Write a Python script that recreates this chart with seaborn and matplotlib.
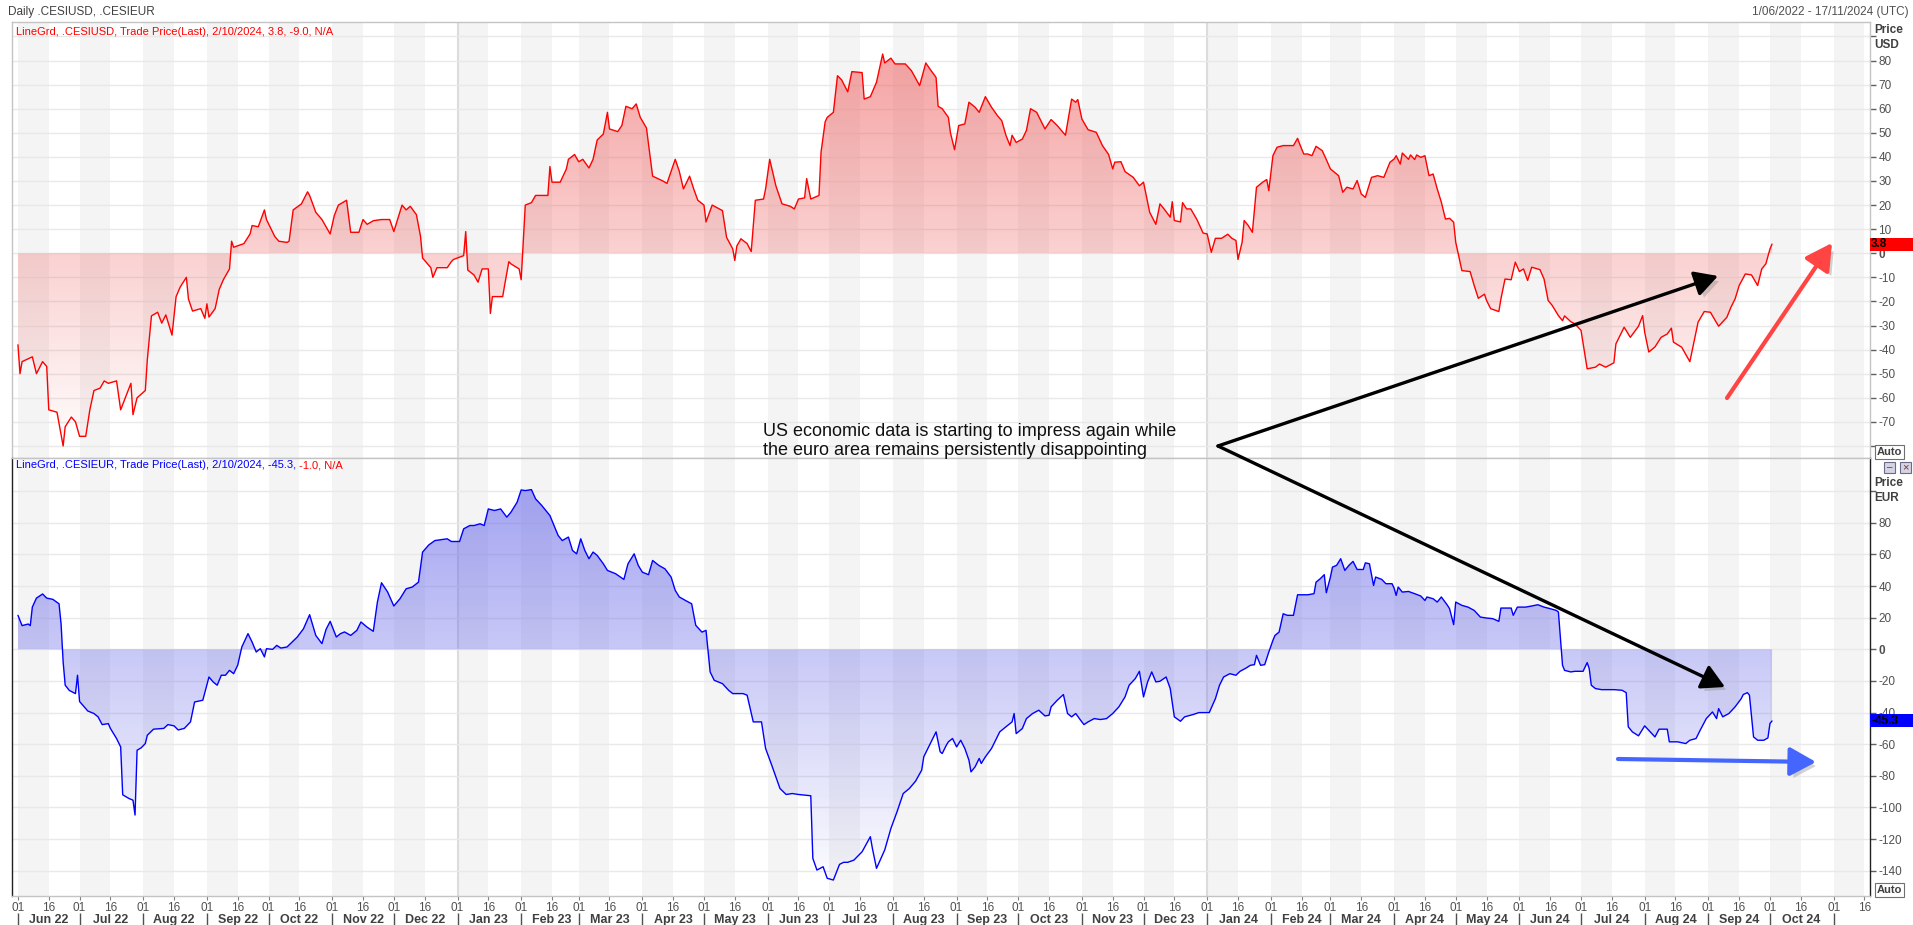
import numpy as np
import pandas as pd
import matplotlib
matplotlib.use("Agg")
import matplotlib.pyplot as plt
import matplotlib.dates as mdates
import matplotlib.patheffects as pe
from matplotlib.patches import Rectangle, FancyArrowPatch
from matplotlib import transforms
from matplotlib import font_manager as fm
import seaborn as sns

# ---------------- data ----------------
START = "2022-06-01"   # day offsets below are counted from this date

usd_day = [0, 1, 2, 7, 9, 12, 14, 15, 19, 22,
           23, 26, 28, 30, 33, 35, 37, 40, 42, 44,
           48, 50, 55, 56, 58, 62, 63, 65, 68, 70,
           72, 75, 77, 79, 82, 83, 85, 89, 91, 92,
           93, 96, 98, 100, 103, 104, 105, 110, 113, 114,
           117, 120, 121, 125, 127, 131, 132, 134, 138, 141,
           142, 145, 148, 152, 154, 156, 160, 162, 166, 168,
           170, 173, 177, 181, 183, 187, 189, 191, 194, 196,
           197, 201, 202, 204, 209, 211, 212, 217, 218, 219,
           222, 224, 226, 229, 230, 231, 236, 237, 239, 240,
           244, 245, 247, 250, 252, 254, 258, 259, 260, 264,
           267, 268, 271, 273, 275, 278, 280, 282, 285, 287,
           288, 292, 294, 296, 299, 301, 303, 306, 309, 314,
           316, 320, 322, 324, 327, 329, 331, 334, 335, 338,
           343, 345, 348, 349, 350, 352, 355, 357, 359, 363,
           364, 366, 369, 372, 376, 378, 380, 383, 384, 386,
           390, 391, 393, 394, 397, 399, 401, 404, 406, 411,
           412, 415, 418, 421, 422, 425, 427, 432, 435, 439,
           442, 444, 447, 448, 450, 453, 454, 456, 458, 461,
           463, 466, 468, 471, 474, 477, 479, 481, 483, 484,
           486, 489, 491, 493, 496, 498, 500, 503, 506, 510,
           513, 515, 516, 518, 521, 525, 528, 531, 533, 534,
           537, 539, 543, 546, 548, 551, 554, 556, 558, 561,
           562, 563, 566, 567, 569, 571, 574, 577, 579, 581,
           583, 586, 589, 591, 593, 594, 596, 597, 599, 601,
           603, 606, 608, 609, 611, 613, 616, 621, 623, 624,
           626, 628, 630, 632, 635, 637, 639, 641, 643, 645,
           647, 650, 652, 654, 656, 659, 662, 665, 668, 670,
           671, 673, 674, 677, 678, 680, 681, 683, 685, 687,
           689, 691, 693, 695, 697, 699, 700, 703, 707, 709,
           711, 714, 715, 717, 721, 722, 724, 727, 729, 731,
           733, 735, 737, 741, 743, 745, 747, 750, 752, 753,
           756, 758, 761, 764, 768, 770, 773, 777, 778, 782,
           785, 789, 791, 792, 794, 797, 800, 803, 805, 806,
           810, 814, 816, 818, 821, 824, 828, 832, 834, 836,
           838, 841, 844, 847, 849, 851, 853, 854]
usd_val = [-38, -50, -45, -43, -50, -45, -47, -65, -66, -80,
           -72, -68, -70, -76, -76, -65, -57, -56, -53, -54,
           -53, -65, -54, -67, -60, -57, -44, -26, -24.5, -29,
           -25.6, -34, -18, -14, -10, -19, -24, -23, -27, -21,
           -26.5, -23, -15, -11, -6.5, 5, 2.5, 4, 8, 11.5,
           11, 18, 14, 7, 5, 4.5, 5, 18, 20.5, 25.5,
           24, 17, 14, 8, 15.6, 20, 22, 8.7, 8.7, 14,
           12, 13.5, 14, 14, 9, 20, 18, 19.5, 16, 7,
           -2, -6, -10, -6, -6, -3.5, -2.6, -1, 9, -7,
           -9, -12, -6.5, -6.5, -25, -18, -18, -13, -3.5, -4.4,
           -6.5, -11, 20, 21, 24, 24, 24, 36, 29.5, 29.5,
           35, 39, 41, 38, 39, 35.4, 39, 47, 49.5, 58.5,
           51.6, 50.5, 53, 61, 60, 62, 56.4, 52, 32, 30,
           29, 39, 34, 26.7, 32, 26.7, 22, 20, 13, 20,
           17.7, 6.6, 1.8, -3, 3, 6, 4, 0.7, 22, 22.5,
           26.7, 39, 28, 20.5, 19.5, 18.4, 22.5, 23, 31, 22.5,
           24, 42, 54.6, 56.4, 58.5, 73.7, 72, 67, 75.4, 75,
           64, 65, 71, 82.7, 79, 81, 78.6, 78.6, 75.8, 69.6,
           79, 76.5, 73, 61, 60, 56.4, 50, 43, 53, 53.7,
           62.7, 60.6, 58.5, 65, 60.6, 57, 55, 49, 44.7, 49,
           46, 47.4, 51, 60, 58.5, 55, 51.6, 55.5, 53, 49,
           64, 62.7, 63.8, 55.7, 51.3, 50.2, 44.7, 41, 35, 37.8,
           38, 33.9, 31.5, 28, 29.5, 17, 12, 20.5, 18.4, 15,
           21.4, 13.6, 13, 21, 18.4, 18.4, 14, 8.4, 8, 0.4,
           6.2, 6.2, 7.9, 6.2, 5.3, -2.6, 4.6, 13.6, 11.5, 8.7,
           27.4, 29.5, 30.6, 26, 40.5, 44, 44.7, 44.7, 47.7, 45.4,
           41.2, 41.2, 40.5, 44.4, 42.6, 38.9, 35, 33.6, 32.2, 25.3,
           27.4, 26.7, 30.2, 24.6, 23.2, 31.5, 32.2, 31.5, 37.8, 39.1,
           40.5, 37, 41.6, 39, 40.8, 38.9, 40.8, 39.8, 40.5, 32.2,
           32.9, 26.7, 21.2, 14.2, 14.5, 12.9, 4.6, -7.2, -7.6, -13.4,
           -18.7, -17, -19.6, -23, -24.2, -19, -10.7, -11, -3.7, -7.6,
           -6.5, -11.3, -5.8, -6.8, -10.7, -19.6, -21.7, -25.9, -28, -26,
           -28.4, -29.3, -32, -48, -47.3, -46, -47.3, -45.5, -37.6, -30.7,
           -34.9, -30.3, -25.9, -32.8, -41, -38.9, -34.9, -33.5, -31.1, -36.9,
           -39, -45, -36.9, -28.6, -24.2, -24.5, -30.3, -26.6, -22.4, -19,
           -13.4, -8.6, -9, -13.4, -6.5, -4.4, 1.8, 3.8]

eur_day = [0, 2, 5, 6, 7, 9, 12, 14, 17, 20,
           21, 22, 23, 25, 28, 29, 30, 34, 37, 39,
           41, 44, 45, 48, 50, 51, 54, 56, 57, 58,
           60, 62, 63, 66, 71, 73, 76, 78, 81, 84,
           86, 90, 93, 95, 97, 99, 101, 103, 105, 107,
           109, 112, 114, 116, 118, 120, 121, 124, 126, 128,
           131, 133, 136, 139, 142, 144, 145, 148, 150, 152,
           155, 157, 159, 162, 165, 167, 170, 173, 175, 177,
           180, 183, 186, 189, 192, 195, 197, 200, 203, 209,
           211, 215, 217, 220, 222, 225, 227, 229, 232, 235,
           238, 240, 243, 245, 247, 250, 252, 255, 259, 261,
           263, 265, 268, 270, 272, 274, 276, 278, 280, 282,
           285, 287, 291, 295, 297, 300, 302, 304, 307, 309,
           312, 315, 318, 320, 322, 325, 328, 330, 333, 335,
           337, 339, 343, 346, 348, 353, 355, 358, 362, 364,
           367, 371, 374, 377, 380, 383, 386, 387, 389, 392,
           394, 397, 400, 402, 404, 407, 411, 415, 416, 418,
           422, 425, 428, 431, 434, 437, 440, 441, 443, 445,
           447, 449, 450, 452, 453, 455, 457, 459, 461, 463,
           464, 466, 468, 469, 471, 474, 476, 478, 481, 484,
           485, 486, 489, 491, 494, 497, 500, 502, 503, 506,
           509, 511, 513, 515, 517, 519, 521, 524, 527, 530,
           533, 536, 539, 541, 544, 546, 548, 550, 552, 554,
           556, 559, 561, 563, 566, 568, 572, 575, 580, 583,
           585, 587, 590, 593, 595, 598, 600, 602, 603, 605,
           607, 609, 611, 612, 614, 616, 618, 621, 623, 628,
           631, 632, 634, 636, 637, 639, 640, 642, 644, 646,
           648, 650, 652, 655, 656, 658, 660, 661, 664, 666,
           669, 670, 671, 672, 674, 677, 680, 683, 685, 686,
           689, 691, 693, 696, 697, 699, 700, 703, 706, 709,
           712, 715, 718, 721, 722, 727, 728, 730, 734, 737,
           740, 743, 746, 749, 750, 752, 753, 756, 758, 762,
           764, 765, 766, 768, 771, 777, 781, 783, 784, 786,
           789, 792, 794, 797, 799, 803, 804, 808, 812, 814,
           817, 819, 822, 825, 827, 828, 830, 833, 836, 839,
           840, 842, 843, 845, 847, 850, 852, 853, 854]
eur_val = [21.5, 15, 16, 15, 26.7, 32.4, 35, 32.4, 31.6, 28.8,
           16, -8, -22.7, -26, -28, -16.4, -33, -39, -40.6, -42.7,
           -47.6, -47, -50, -56.4, -61.7, -92, -94.3, -95.4, -104.8, -63.8,
           -62.3, -59.6, -54.3, -50.5, -50, -47.6, -48.4, -51, -50, -45.9,
           -33.3, -32.2, -17.5, -20.6, -22.7, -16.4, -16.4, -13.3, -15.4, -10,
           1.5, 9.9, 4.6, -1.7, 0.4, -4.8, 0.4, 0, 2.5, 0.8,
           1.5, 4, 7.8, 13, 21.9, 13, 8.8, 3.6, 12.6, 17.7,
           7.8, 9.9, 11, 8.8, 12, 17.3, 14, 11.4, 29.9, 42.1,
           36.2, 27.4, 32, 38.3, 39.4, 42.5, 61.5, 66, 68.8, 69.9,
           68.2, 68.2, 76.2, 78.3, 78.3, 79.4, 78.3, 88.8, 87.8, 88.8,
           83.6, 86.7, 93, 100.8, 100.4, 101, 95.2, 91, 84.6, 78.3,
           72, 68.8, 71, 62.5, 60.4, 69.9, 62.5, 57.3, 61.5, 59.4,
           54.1, 49.9, 47.8, 44.2, 54.1, 60.4, 53.1, 48.8, 47.2, 56.2,
           53.1, 50.9, 45.7, 37.3, 33.1, 30.9, 28.8, 15.2, 10.9, 12,
           -14.3, -19.6, -21.7, -25.9, -28, -28, -29, -45.9, -45.9, -62.7,
           -73.3, -88, -91.8, -91.2, -91.8, -92.2, -92.6, -132.2, -139.6, -137.5,
           -144.8, -145.9, -136, -134.7, -134.7, -133.3, -128, -118.5, -125.9, -138.5,
           -126.9, -113.3, -102.7, -91.2, -88, -83.4, -76.4, -68, -62.7, -57.5,
           -52.2, -64.8, -65.9, -60.6, -58.5, -56.4, -61.7, -57.5, -62.7, -70.1,
           -77.5, -74.3, -69, -72.2, -68, -62.7, -57.5, -52.2, -49, -45.9,
           -40.6, -53.3, -50.1, -43.8, -40.6, -38.5, -42.1, -41.7, -36.4, -32.2,
           -28.6, -40.6, -42.7, -40.6, -44.2, -47.6, -45.9, -43.8, -44.4, -43.8,
           -40.6, -36.4, -30.1, -22.7, -18.5, -13.9, -30.1, -20.6, -14.3, -20.6,
           -20.2, -17.5, -24.8, -42.7, -45.5, -42.7, -41.3, -40, -40, -31.2,
           -22.7, -17.5, -15.4, -16.4, -13.9, -11.8, -10.1, -9.7, -3.8, -10.1,
           -9.7, -1.7, 5.7, 8.8, 10.9, 22.5, 21.5, 21.5, 34.5, 34.5,
           35.2, 42.5, 44.6, 47.2, 35.8, 45.7, 52, 53.1, 57.3, 49.9,
           53.1, 55.6, 50.5, 50.5, 54.7, 54.1, 40.4, 45.7, 44.2, 41.5,
           41.5, 38.7, 34.1, 39.4, 36.2, 36.6, 35.2, 33.7, 30.9, 33.1,
           32, 29.9, 33.1, 27.8, 25.7, 15.6, 29.9, 27.8, 26.7, 24.6,
           20.4, 19.8, 19.4, 17.7, 26.1, 26.1, 21.5, 26.7, 26.7, 27.4,
           28.2, 26.7, 25.7, 24.6, 23.6, -10.1, -13.3, -14.3, -13.9, -13.9,
           -8.4, -12.2, -22.7, -24.8, -25.5, -25.5, -25.9, -27.4, -49, -52.2,
           -54.7, -48.4, -51.2, -55.4, -50.5, -50.5, -58.5, -58.5, -59.6, -57.5,
           -56.4, -51.2, -43.8, -39.6, -43.8, -37.5, -42.7, -40.6, -36.4, -31.2,
           -28.6, -27.4, -29, -55.4, -57.5, -57.5, -56, -46.9, -45.3]

usd_ticks = list(range(-70, 81, 10))
eur_ticks = list(range(-140, 81, 20))
usd_last, eur_last = 3.8, -45.3
header_left = "Daily .CESIUSD, .CESIEUR"
header_right = "1/06/2022 - 17/11/2024 (UTC)"
usd_legend = "LineGrd, .CESIUSD, Trade Price(Last), 2/10/2024, 3.8, -9.0, N/A"
eur_legend_a = "LineGrd, .CESIEUR, Trade Price(Last), 2/10/2024, -45.3, "
eur_legend_b = "-1.0, N/A"
note = ("US economic data is starting to impress again while\n"
        "the euro area remains persistently disappointing")

assert len(usd_day) == len(usd_val) and len(eur_day) == len(eur_val)

# ---------------- style ----------------
sns.set_theme(style="white")
names = {f.name for f in fm.fontManager.ttflist}
NARROW = "Liberation Sans Narrow" if "Liberation Sans Narrow" in names else "Liberation Sans"
plt.rcParams["font.family"] = [NARROW, "DejaVu Sans"]
SMALL = 8

W, H = 1913, 925
fig = plt.figure(figsize=(W / 100, H / 100), dpi=100, facecolor="white")

def fx(px):
    return px / W

def fy(py):
    return 1 - py / H

ax1 = fig.add_axes([fx(12), fy(458), fx(1870 - 12), (458 - 22) / H])
ax2 = fig.add_axes([fx(12), fy(896), fx(1870 - 12), (896 - 458) / H], sharex=ax1)

start = pd.Timestamp(START)
usd_dates = start + pd.to_timedelta(usd_day, unit="D")
eur_dates = start + pd.to_timedelta(eur_day, unit="D")
df_usd = pd.DataFrame({"date": usd_dates, "value": usd_val})
df_eur = pd.DataFrame({"date": eur_dates, "value": eur_val})

x0 = mdates.date2num(start) - 2.9
x1 = mdates.date2num(start) + 901.7
months = pd.date_range("2022-06-01", "2024-11-01", freq="MS")


def decorate(ax):
    ax.set_facecolor("white")
    for m in months:
        ax.axvspan(mdates.date2num(m), mdates.date2num(m + pd.Timedelta(days=15)),
                   color="#f4f4f4", lw=0, zorder=0.1)
    for y in ["2023-01-01", "2024-01-01"]:
        ax.axvline(mdates.date2num(pd.Timestamp(y)), color="#dcdcdc", lw=1.5, zorder=0.3)
    ax.grid(axis="y", color="#e9e9e9", lw=1)
    ax.grid(axis="x", visible=False)
    ax.set_axisbelow(True)


def gradient_fill(ax, df, rgb, amax, ylim):
    xn = mdates.date2num(df["date"])
    poly = ax.fill_between(xn, df["value"].values, 0, facecolor="none", edgecolor="none")
    n = 256
    grad = np.zeros((n, 1, 4))
    grad[..., 0], grad[..., 1], grad[..., 2] = rgb
    grad[:, 0, 3] = np.linspace(0, amax, n)
    im = ax.imshow(grad, extent=[xn.min(), xn.max(), ylim[0], ylim[1]], origin="lower",
                   aspect="auto", zorder=1, interpolation="bilinear")
    im.set_clip_path(poly.get_paths()[0], transform=ax.transData)


def style_yaxis(ax, ticks, grid_ticks, ylim):
    ax.set_ylim(*ylim)
    ax.yaxis.tick_right()
    ax.set_yticks(grid_ticks)
    ax.set_yticklabels([str(t) if t in ticks else "" for t in grid_ticks])
    ax.tick_params(axis="y", which="both", right=True, left=False, direction="out",
                   length=4, width=1, color="#606060", labelsize=SMALL + 0.5,
                   labelcolor="#505050", pad=2)
    for lab, t in zip(ax.get_yticklabels(), grid_ticks):
        if t == 0:
            lab.set_fontweight("bold")
    ax.set_ylabel("")
    ax.set_xlabel("")


USD_LIM = (-85, 96)
EUR_LIM = (-156, 121)

# top panel
decorate(ax1)
sns.lineplot(data=df_usd, x="date", y="value", ax=ax1, color="#ff0000", lw=1, zorder=3)
gradient_fill(ax1, df_usd, (0.94, 0.38, 0.38), 0.62, USD_LIM)
style_yaxis(ax1, usd_ticks, list(range(-80, 91, 10)), USD_LIM)
ax1.tick_params(axis="x", bottom=False, labelbottom=False)
for s in ax1.spines.values():
    s.set_color("#c4c4c4")
    s.set_linewidth(1)

# bottom panel
decorate(ax2)
sns.lineplot(data=df_eur, x="date", y="value", ax=ax2, color="#0000ff", lw=1, zorder=3)
gradient_fill(ax2, df_eur, (0.42, 0.42, 0.92), 0.66, EUR_LIM)
style_yaxis(ax2, eur_ticks, list(range(-140, 101, 20)), EUR_LIM)
for k, s in ax2.spines.items():
    s.set_linewidth(1)
    s.set_color("#202020" if k in ("left", "right") else "#c4c4c4")

ax1.set_xlim(x0, x1)

# x ticks: 01 / 16
tick_dates = []
tick_labels = []
for m in months:
    tick_dates += [m, m + pd.Timedelta(days=15)]
    tick_labels += ["01", "16"]
ax2.set_xticks(mdates.date2num(tick_dates))
ax2.set_xticklabels(tick_labels)
ax2.tick_params(axis="x", bottom=True, direction="out", length=3, width=0.8,
                color="#808080", labelsize=SMALL + 0.5, labelcolor="#505050", pad=1.5)

sec = ax2.secondary_xaxis("bottom")
sec.set_xticks(mdates.date2num(months))
sec.set_xticklabels([""] * len(months))
mids = [m + pd.Timedelta(days=15) for m in months[:-1]]
sec.set_xticks(mdates.date2num(mids), minor=True)
sec.set_xticklabels([m.strftime("%b %y") for m in months[:-1]], minor=True)
sec.spines["bottom"].set_position(("outward", 12))
sec.spines["bottom"].set_visible(False)
sec.tick_params(which="major", length=10, width=1, color="#505050", direction="out")
sec.tick_params(which="minor", length=0, labelsize=SMALL + 1, labelcolor="#404040", pad=1)
for lab in sec.get_xticklabels(minor=True):
    lab.set_fontweight("bold")

# ---------------- header / legends ----------------
fig.text(fx(8), fy(12), header_left, fontsize=SMALL + 0.5, color="#404040", va="center", ha="left")
fig.text(fx(1909), fy(12), header_right, fontsize=SMALL + 0.5, color="#505050", va="center", ha="right")
fig.text(fx(16), fy(32), usd_legend, fontsize=SMALL, color="#ff0000", va="center", ha="left")
ta = fig.text(fx(16), fy(465), eur_legend_a, fontsize=SMALL, color="#0000ff", va="center", ha="left")
fig.canvas.draw()
bb = ta.get_window_extent(fig.canvas.get_renderer())
fig.text(bb.x1 / W, fy(465), eur_legend_b, fontsize=SMALL, color="#ff0000", va="center", ha="left")

for (py1, py2, cur) in [(30, 45, "USD"), (483, 498, "EUR")]:
    fig.text(fx(1874), fy(py1), "Price", fontsize=SMALL + 0.5, color="#404040", fontweight="bold", va="center")
    fig.text(fx(1874), fy(py2), cur, fontsize=SMALL + 0.5, color="#404040", fontweight="bold", va="center")

for py in (452, 890):
    fig.text(fx(1877), fy(py), "Auto", fontsize=SMALL, color="#404040", fontweight="bold", va="center",
             bbox=dict(boxstyle="square,pad=0.15", fc="white", ec="#707070", lw=0.8))

# small window buttons
for bx in (1884, 1900):
    fig.patches.append(Rectangle((fx(bx), fy(473)), 11 / W, 11 / H, transform=fig.transFigure,
                                 fc="#d4d4e4", ec="#6a6a8a", lw=0.8))
fig.text(fx(1889.5), fy(467), "–", fontsize=7, ha="center", va="center", color="#404060")
fig.text(fx(1905.5), fy(467), "×", fontsize=8, ha="center", va="center", color="#803030")

# last value boxes
for ax, val, col, hgt in [(ax1, usd_last, "#ff0000", 5.4), (ax2, eur_last, "#0000ff", 8.2)]:
    tr = transforms.blended_transform_factory(fig.transFigure, ax.transData)
    ax.add_patch(Rectangle((fx(1870), val - hgt / 2), fx(W - 1870), hgt, transform=tr,
                           fc=col, ec="none", clip_on=False, zorder=10))
    ax.text(fx(1871), val, f"{val:.1f}", transform=tr, fontsize=SMALL + 0.5, fontweight="bold",
            color="black", va="center", ha="left", zorder=11, clip_on=False)

# ---------------- annotation ----------------
fig.text(fx(763), fy(441), note, fontsize=13, color="#111111", va="center", ha="left",
         family=["Liberation Sans", "DejaVu Sans"], linespacing=1.15, zorder=20)

shadow = [pe.SimplePatchShadow(offset=(3, -3), alpha=0.35, shadow_rgbFace="#808080"), pe.Normal()]


def arrow(p0, p1, color, lw, scale):
    a = FancyArrowPatch((fx(p0[0]), fy(p0[1])), (fx(p1[0]), fy(p1[1])),
                        transform=fig.transFigure, arrowstyle="-|>,head_length=1.0,head_width=0.55",
                        mutation_scale=scale, color=color, lw=lw, zorder=30,
                        path_effects=shadow, shrinkA=0, shrinkB=0)
    fig.add_artist(a)


arrow((1218, 446), (1718, 276), "black", 2.4, 14)
arrow((1218, 446), (1725, 687), "black", 2.4, 14)
arrow((1727, 398), (1832, 243), "#ff4444", 3.0, 16)
arrow((1618, 759), (1816, 762), "#4466ff", 3.0, 16)

fig.savefig("out.png", dpi=100, facecolor="white")
